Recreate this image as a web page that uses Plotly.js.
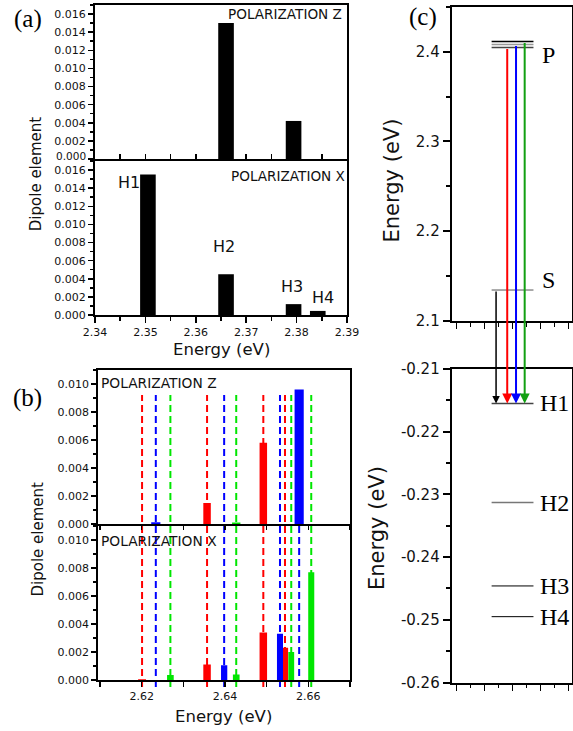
<!DOCTYPE html>
<html><head><meta charset="utf-8">
<script src="https://cdn.plot.ly/plotly-3.0.1.min.js"></script>
<style>html,body{margin:0;padding:0;background:#fff}</style>
</head><body><div id="plot" style="width:573px;height:731px"></div>
<script>
// ---------- Panel (a) data ----------
const levelsA = ['H1', 'H2', 'H3', 'H4'];
const energyA = [2.3505, 2.3660, 2.3794, 2.3842];
const dipoleAZ = [0, 0.0150, 0.0042, 0];
const dipoleAX = [0.0155, 0.0045, 0.0012, 0.00045];
const ticksA = [0, 0.002, 0.004, 0.006, 0.008, 0.010, 0.012, 0.014, 0.016];
const tickTextATop = ['', '0.002', '0.004', '0.006', '0.008', '0.010', '0.012', '0.014', '0.016'];

// ---------- Panel (b) data ----------
const energyBRed   = [2.6201, 2.6357, 2.6492, 2.6544];
const energyBBlue  = [2.6234, 2.6398, 2.6532, 2.6578];
const energyBGreen = [2.6269, 2.6427, 2.6559, 2.6607];
const dipoleBZRed   = [0, 0.0015, 0.0058, 0];
const dipoleBZBlue  = [0.00012, 0, 0, 0.0096];
const dipoleBZGreen = [0, 0.0001, 0, 0];
const dipoleBXRed   = [0.00005, 0.0011, 0.0034, 0.0023];
const dipoleBXBlue  = [0, 0.00105, 0.0033, 0];
const dipoleBXGreen = [0.00035, 0.0004, 0.0020, 0.0077];

// ---------- Panel (c) data ----------
const energyP = [2.4046, 2.4078, 2.4113];      // red, blue, green P levels
const energyS = 2.1345;
const energyH = [-0.2155, -0.2313, -0.2446, -0.2495];
const ticksCTop = [2.1, 2.2, 2.3, 2.4];
const ticksCBot = [-0.26, -0.25, -0.24, -0.23, -0.22, -0.21];
const tickTextCBot = ['-0.26', '-0.25', '-0.24', '-0.23', '-0.22', '-0.21'];

// ---------- layout geometry ----------
const W = 573, H = 731;
const px = v => v / W;
const py = v => 1 - v / H;
const domAx = [px(95), px(347)];
const domAyTop = [py(159), py(5)];
const domAyBot = [py(315), py(161)];
const domBx = [px(98.3), px(350)];
const domByTop = [py(524), py(370)];
const domByBot = [py(680), py(526)];
const domCx = [px(451.7), px(571.7)];
const domCyTop = [py(321), py(6.7)];
const domCyBot = [py(682.5), py(369)];
const rangeCTop = [2.1, 2.45];
const rangeCBot = [-0.26, -0.21];
const rangeCx = [-0.36, 8.24];

const FONT = 'DejaVu Sans, Arial, sans-serif';
const SERIF = 'Liberation Serif, Times New Roman, serif';
const RED = '#ff0000', BLUE = '#0000ff', GREEN_B = '#00e600', GREEN_C = '#12a012';

const baseAxis = {
  showline: true, linecolor: '#000', linewidth: 2, mirror: true,
  showgrid: false, zeroline: false, tickcolor: '#000', tickwidth: 1.5,
  tickfont: {family: FONT, size: 11, color: '#111'}
};
function ax(o) { return Object.assign({}, baseAxis, o); }

const data = [];
// (a)
data.push({type: 'bar', x: energyA, y: dipoleAZ, xaxis: 'x', yaxis: 'y', width: 0.0031,
  marker: {color: '#000', line: {width: 0}}, hoverinfo: 'skip'});
data.push({type: 'bar', x: energyA, y: dipoleAX, xaxis: 'x2', yaxis: 'y2', width: 0.0031,
  marker: {color: '#000', line: {width: 0}}, hoverinfo: 'skip'});
// (b)
function barB(x, y, color, widths, xa, ya) {
  data.push({type: 'bar', x: x, y: y, xaxis: xa, yaxis: ya, width: widths,
    marker: {color: color, line: {width: 0}}, hoverinfo: 'skip'});
}
barB(energyBRed, dipoleBZRed, RED, [0.0018, 0.0018, 0.0018, 0.0015], 'x3', 'y3');
barB(energyBGreen, dipoleBZGreen, GREEN_B, [0.0016, 0.0020, 0.0014, 0.0015], 'x3', 'y3');
barB(energyBBlue, dipoleBZBlue, BLUE, [0.0022, 0.0015, 0.0015, 0.0022], 'x3', 'y3');
barB(energyBRed, dipoleBXRed, RED, [0.0019, 0.0018, 0.0018, 0.0015], 'x4', 'y4');
barB(energyBGreen, dipoleBXGreen, GREEN_B, [0.0016, 0.0016, 0.0014, 0.00145], 'x4', 'y4');
barB(energyBBlue, dipoleBXBlue, BLUE, [0.0015, 0.0015, 0.00145, 0.0015], 'x4', 'y4');
// (c) invisible traces to create the axes
data.push({type: 'scatter', x: [0], y: [2.2], xaxis: 'x5', yaxis: 'y5', mode: 'none', hoverinfo: 'skip'});
data.push({type: 'scatter', x: [0], y: [-0.23], xaxis: 'x6', yaxis: 'y6', mode: 'none', hoverinfo: 'skip'});

const shapes = [];
// (b) dashed transition lines
const dashTop = py(395), dashBot = py(687);
[[energyBRed, RED], [energyBBlue, BLUE], [energyBGreen, GREEN_B]].forEach(([arr, c]) => {
  arr.forEach(e => shapes.push({type: 'line', xref: 'x3', yref: 'paper', x0: e, x1: e,
    y0: dashBot, y1: dashTop, layer: 'below', line: {color: c, width: 2, dash: '7px,4px'}}));
});
// (c) energy levels
const levelX = [2.5, 5.5];
const pColors = ['#444', '#999', '#000'];
energyP.forEach((e, i) => shapes.push({type: 'line', xref: 'x5', yref: 'y5', x0: levelX[0], x1: levelX[1],
  y0: e, y1: e, line: {color: pColors[i], width: 1.5}}));
shapes.push({type: 'line', xref: 'x5', yref: 'y5', x0: levelX[0], x1: levelX[1], y0: energyS, y1: energyS,
  line: {color: '#555', width: 1}});
const hColors = ['#444', '#777', '#000', '#000'];
const hWidths = [1.5, 1.5, 1, 1];
energyH.forEach((e, i) => shapes.push({type: 'line', xref: 'x6', yref: 'y6', x0: levelX[0], x1: levelX[1],
  y0: e, y1: e, line: {color: hColors[i], width: hWidths[i]}}));

function paperY(v, dom, rng) { return dom[0] + (v - rng[0]) / (rng[1] - rng[0]) * (dom[1] - dom[0]); }

const ann = [];
function txt(text, x, y, o) {
  ann.push(Object.assign({text: text, x: x, y: y, xref: 'paper', yref: 'paper', showarrow: false,
    xanchor: 'center', yanchor: 'middle', font: {family: FONT, size: 14, color: '#000'}}, o || {}));
}
// panel letters
txt('(a)', px(12), py(19), {xanchor: 'left', font: {family: SERIF, size: 25, color: '#000'}});
txt('(b)', px(11), py(398), {xanchor: 'left', font: {family: SERIF, size: 25, color: '#000'}});
txt('(c)', px(407), py(17), {xanchor: 'left', font: {family: SERIF, size: 25, color: '#000'}});
// polarization labels
txt('POLARIZATION Z', px(344), py(14), {xanchor: 'right', font: {family: FONT, size: 13.6, color: '#111'}});
txt('POLARIZATION X', px(347), py(176), {xanchor: 'right', font: {family: FONT, size: 13.6, color: '#111'}});
txt('POLARIZATION Z', px(99), py(382.5), {xanchor: 'left', font: {family: FONT, size: 13.8, color: '#111'}});
txt('POLARIZATION X', px(99), py(540.5), {xanchor: 'left', font: {family: FONT, size: 13.8, color: '#111'}});
// axis titles
txt('Dipole element', px(35.7), py(173.5), {textangle: -90, font: {family: FONT, size: 15, color: '#111'}});
txt('Dipole element', px(37.5), py(539), {textangle: -90, font: {family: FONT, size: 15, color: '#111'}});
txt('Energy (eV)', px(221), py(349), {font: {family: FONT, size: 16.5, color: '#111'}});
txt('Energy (eV)', px(223), py(716), {font: {family: FONT, size: 16.5, color: '#111'}});
txt('Energy (eV)', px(392), py(180.5), {textangle: -90, font: {family: FONT, size: 21, color: '#111'}});
txt('Energy (eV)', px(377), py(528), {textangle: -90, font: {family: FONT, size: 21, color: '#111'}});
// shifted zero label of the top (a) panel
txt('0.000', px(88), py(155.5), {xanchor: 'right', font: {family: FONT, size: 10.5, color: '#111'}});
// H labels in (a)
const hLabelPosA = [[2.3467, 0.0146], [2.3656, 0.0076], [2.3791, 0.0031], [2.3852, 0.0019]];
levelsA.forEach((n, i) => ann.push({text: n, x: hLabelPosA[i][0], y: hLabelPosA[i][1], xref: 'x2', yref: 'y2',
  showarrow: false, xanchor: 'center', yanchor: 'middle', font: {family: FONT, size: 16, color: '#111'}}));
// level labels in (c)
const labX = 5.95;
ann.push({text: 'P', x: labX, y: energyP[1], xref: 'x5', yref: 'y5', yshift: -10, showarrow: false,
  xanchor: 'left', yanchor: 'middle', font: {family: SERIF, size: 24, color: '#000'}});
ann.push({text: 'S', x: labX, y: energyS, xref: 'x5', yref: 'y5', yshift: 10, showarrow: false,
  xanchor: 'left', yanchor: 'middle', font: {family: SERIF, size: 24, color: '#000'}});
levelsA.forEach((n, i) => ann.push({text: n, x: labX - 0.1, y: energyH[i], xref: 'x6', yref: 'y6', showarrow: false,
  xanchor: 'left', yanchor: 'middle', font: {family: SERIF, size: 24, color: '#000'}}));
// transition arrows in (c)
const headY = paperY(energyH[0], domCyBot, rangeCBot);
function arrow(x, fromE, color, w) {
  ann.push({text: '', x: x, y: headY, xref: 'x6', yref: 'paper', axref: 'x6', ayref: 'paper',
    ax: x, ay: paperY(fromE, domCyTop, rangeCTop), showarrow: true, arrowhead: 2, arrowsize: 1,
    arrowwidth: w, arrowcolor: color, standoff: 0, startstandoff: 0});
}
arrow(2.82, energyS, '#000', 1.5);
arrow(3.62, energyP[0], RED, 2);
arrow(4.25, energyP[1], BLUE, 2);
arrow(4.87, energyP[2], GREEN_C, 2);

const layout = {
  width: W, height: H, autosize: false, margin: {l: 0, r: 0, t: 0, b: 0},
  paper_bgcolor: '#fff', plot_bgcolor: 'rgba(0,0,0,0)', showlegend: false, barmode: 'overlay',
  font: {family: FONT, color: '#111'},
  // (a)
  xaxis: ax({domain: domAx, anchor: 'y', range: [2.34, 2.39], showticklabels: false, ticks: 'inside',
    dtick: 0.005, tick0: 2.34, ticklen: 5}),
  yaxis: ax({domain: domAyTop, anchor: 'x', range: [0, 0.017], tickmode: 'array', tickvals: ticksA,
    ticktext: tickTextATop, ticks: 'outside', ticklen: 5,
    minor: {dtick: 0.001, tick0: 0, ticks: 'outside', ticklen: 3, tickwidth: 1.5, tickcolor: '#000'}}),
  xaxis2: ax({domain: domAx, anchor: 'y2', range: [2.34, 2.39], dtick: 0.01, tick0: 2.34, tickformat: '.2f',
    ticks: 'outside', ticklen: 6,
    minor: {dtick: 0.005, tick0: 2.34, ticks: 'outside', ticklen: 3.5, tickwidth: 1.5, tickcolor: '#000'}}),
  yaxis2: ax({domain: domAyBot, anchor: 'x2', range: [0, 0.017], dtick: 0.002, tick0: 0, tickformat: '.3f',
    ticks: 'outside', ticklen: 5,
    minor: {dtick: 0.001, tick0: 0, ticks: 'outside', ticklen: 3, tickwidth: 1.5, tickcolor: '#000'}}),
  // (b)
  xaxis3: ax({domain: domBx, anchor: 'y3', range: [2.6096, 2.67], showticklabels: false, ticks: 'outside',
    dtick: 0.01, tick0: 2.62, ticklen: 4}),
  yaxis3: ax({domain: domByTop, anchor: 'x3', range: [0, 0.011], dtick: 0.002, tick0: 0, tickformat: '.3f',
    ticks: 'outside', ticklen: 5,
    minor: {dtick: 0.001, tick0: 0, ticks: 'outside', ticklen: 3, tickwidth: 1.5, tickcolor: '#000'}}),
  xaxis4: ax({domain: domBx, anchor: 'y4', range: [2.6096, 2.67], dtick: 0.02, tick0: 2.62, tickformat: '.2f',
    ticks: 'outside', ticklen: 5,
    minor: {dtick: 0.01, tick0: 2.62, ticks: 'outside', ticklen: 5, tickwidth: 1.5, tickcolor: '#000'}}),
  yaxis4: ax({domain: domByBot, anchor: 'x4', range: [0, 0.011], dtick: 0.002, tick0: 0, tickformat: '.3f',
    ticks: 'outside', ticklen: 5,
    minor: {dtick: 0.001, tick0: 0, ticks: 'outside', ticklen: 3, tickwidth: 1.5, tickcolor: '#000'}}),
  // (c)
  xaxis5: ax({domain: domCx, anchor: 'y5', range: rangeCx, showticklabels: false, ticks: 'outside',
    dtick: 2, tick0: 0, ticklen: 6,
    minor: {dtick: 1, tick0: 0, ticks: 'outside', ticklen: 3.5, tickwidth: 1.5, tickcolor: '#000'}}),
  yaxis5: ax({domain: domCyTop, anchor: 'x5', range: rangeCTop, tickmode: 'array', tickvals: ticksCTop,
    tickformat: '.1f', ticks: 'outside', ticklen: 7, tickwidth: 2,
    tickfont: {family: FONT, size: 15, color: '#111'},
    minor: {dtick: 0.05, tick0: 2.1, ticks: 'outside', ticklen: 4, tickwidth: 2, tickcolor: '#000'}}),
  xaxis6: ax({domain: domCx, anchor: 'y6', range: rangeCx, showticklabels: false, ticks: 'outside',
    dtick: 2, tick0: 0, ticklen: 6,
    minor: {dtick: 1, tick0: 0, ticks: 'outside', ticklen: 3.5, tickwidth: 1.5, tickcolor: '#000'}}),
  yaxis6: ax({domain: domCyBot, anchor: 'x6', range: rangeCBot, tickmode: 'array', tickvals: ticksCBot,
    ticktext: tickTextCBot, ticks: 'outside', ticklen: 7, tickwidth: 2,
    tickfont: {family: FONT, size: 15, color: '#111'},
    minor: {dtick: 0.005, tick0: -0.26, ticks: 'outside', ticklen: 4, tickwidth: 2, tickcolor: '#000'}}),
  shapes: shapes,
  annotations: ann
};

Plotly.newPlot('plot', data, layout, {staticPlot: true, displayModeBar: false});
</script></body></html>
